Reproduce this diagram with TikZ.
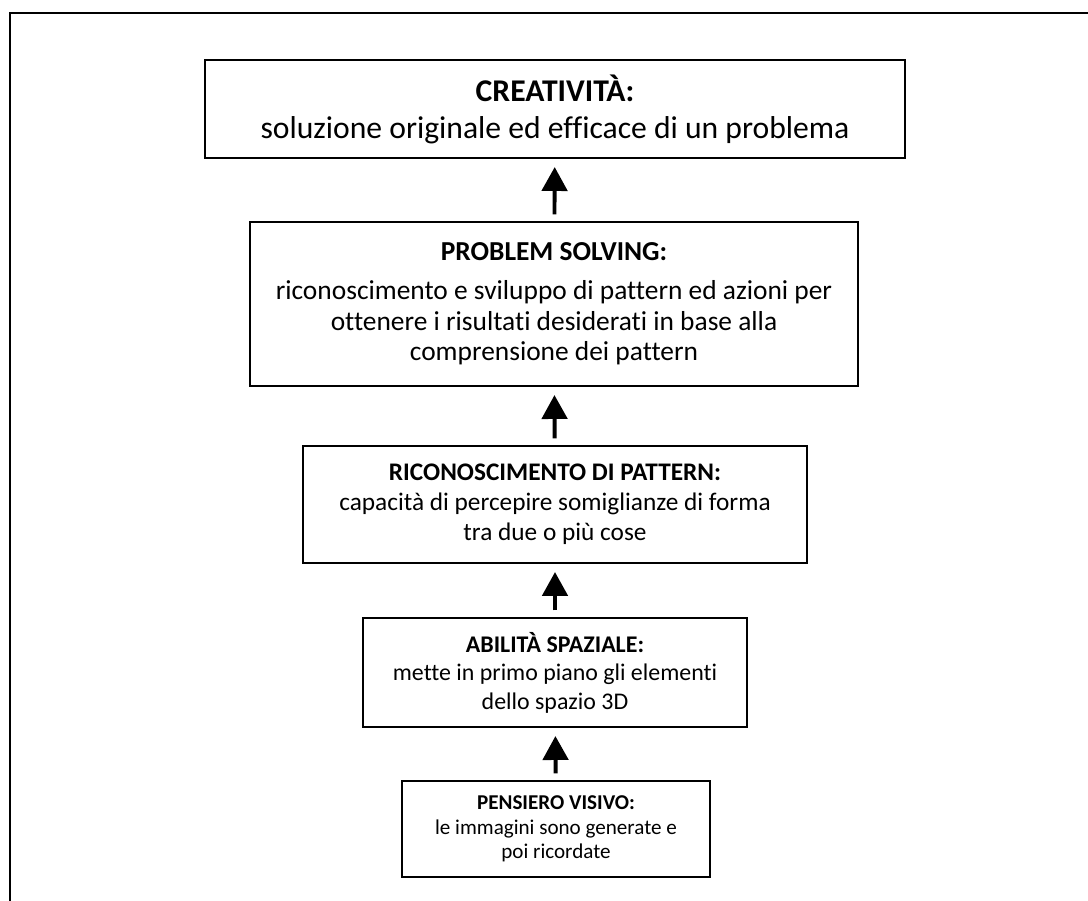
\documentclass[tikz,border=0pt]{standalone}
\usepackage{fontspec}
\setmainfont{Carlito}[Ligatures=NoCommon]
\usetikzlibrary{arrows.meta, shadows}

\begin{document}
\begin{tikzpicture}[
  block/.style={rectangle, draw, fill=white, line width=0.9pt, align=center,
                inner sep=0pt,
                drop shadow={shadow xshift=0.8pt, shadow yshift=-0.8pt,
                             fill=black!70, opacity=1}},
  arrow/.style={-{Triangle[width=18pt, length=17pt]}, line width=2.8pt,
                shorten <=5pt, shorten >=6pt},
]
  \useasboundingbox (0,0) rectangle (27.2,-22.525);

  % Frame
  \draw[line width=1.5pt] (0.25,-22.525) -- (0.25,-0.325) -- (27.2,-0.325);

  % Levels, top to bottom
  \node[block, minimum width=17.5cm, minimum height=2.45cm,
        font=\fontsize{22.5}{26.3}\selectfont] (creat) at (13.875,-2.725)
        {\textbf{CREATIVITÀ:}\\soluzione originale ed efficace di un problema};
  \node[block, minimum width=15.2cm, minimum height=4.1cm,
        font=\fontsize{19.5}{21.8}\selectfont] (probl) at (13.85,-7.6)
        {\textbf{PROBLEM SOLVING:}\\[6pt]
         riconoscimento e sviluppo di pattern ed azioni per\\
         ottenere i risultati desiderati in base alla\\
         comprensione dei pattern};
  \node[block, minimum width=12.6cm, minimum height=2.925cm,
        font=\fontsize{18}{21.5}\selectfont] (ricon) at (13.875,-12.6125)
        {\textbf{RICONOSCIMENTO DI PATTERN:}\\
         capacità di percepire somiglianze di forma\\
         tra due o più cose};
  \node[block, minimum width=9.6cm, minimum height=2.725cm,
        font=\fontsize{17}{20.3}\selectfont] (spaz) at (13.875,-16.8125)
        {\textbf{ABILITÀ SPAZIALE:}\\
         mette in primo piano gli elementi\\
         dello spazio 3D};
  \node[block, minimum width=7.7cm, minimum height=2.4cm,
        font=\fontsize{15}{17.6}\selectfont] (visivo) at (13.9,-20.725)
        {\textbf{PENSIERO VISIVO:}\\
         le immagini sono generate e\\
         poi ricordate};

  % Arrows
  \draw[arrow] (probl)  -- (creat);
  \draw[arrow] (ricon)  -- (probl);
  \draw[arrow] (spaz)   -- (ricon);
  \draw[arrow] (visivo) -- (spaz);
\end{tikzpicture}
\end{document}
